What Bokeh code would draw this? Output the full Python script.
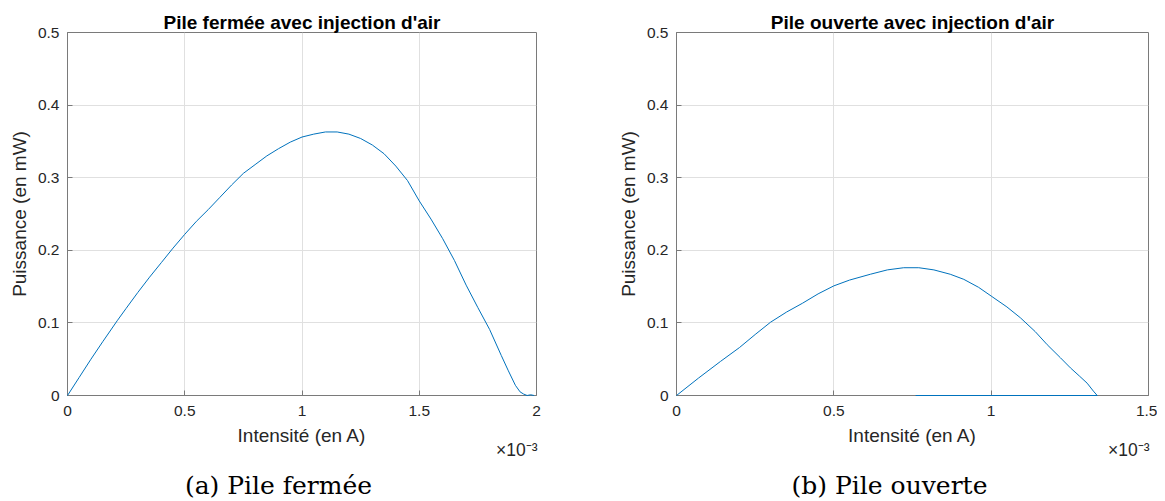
from bokeh.plotting import figure
from bokeh.layouts import row
from bokeh.models import Range1d, FixedTicker, Label, CustomJSTickFormatter
from bokeh.embed import file_html
from bokeh.resources import INLINE

# ---------------- data (x in 10^-3 A, y in mW) ----------------
closed_current_mA = [0, 0.05, 0.1, 0.15, 0.212, 0.25, 0.3, 0.35, 0.4, 0.45, 0.5, 0.55, 0.6,
                     0.65, 0.7, 0.75, 0.8, 0.85, 0.9, 0.95, 1.0, 1.05, 1.1, 1.15, 1.2, 1.25,
                     1.3, 1.35, 1.4, 1.45, 1.5, 1.55, 1.6, 1.65, 1.7, 1.75, 1.8, 1.85, 1.88,
                     1.91, 1.93, 1.945, 1.96, 1.975, 1.99]
closed_power_mW = [0, 0.025, 0.050, 0.074, 0.103, 0.120, 0.142, 0.163, 0.183, 0.203, 0.222,
                   0.240, 0.256, 0.273, 0.290, 0.306, 0.318, 0.330, 0.340, 0.349, 0.356,
                   0.360, 0.363, 0.363, 0.360, 0.354, 0.345, 0.333, 0.316, 0.296, 0.268,
                   0.243, 0.216, 0.186, 0.152, 0.121, 0.091, 0.055, 0.034, 0.014, 0.005,
                   0.002, 0.0, 0.001, 0.0]

open_current_mA = [0, 0.07, 0.14, 0.2, 0.25, 0.299, 0.35, 0.4, 0.45, 0.5, 0.55, 0.616, 0.67,
                   0.722, 0.77, 0.818, 0.87, 0.913, 0.96, 1.0, 1.05, 1.093, 1.14, 1.178, 1.22,
                   1.252, 1.28, 1.305, 1.325, 1.337, 1.2, 1.0, 0.76]
open_power_mW = [0, 0.024, 0.047, 0.066, 0.084, 0.101, 0.115, 0.127, 0.140, 0.151, 0.159,
                 0.167, 0.173, 0.176, 0.176, 0.173, 0.167, 0.160, 0.149, 0.137, 0.122, 0.107,
                 0.088, 0.070, 0.052, 0.038, 0.027, 0.017, 0.006, 0.0, 0.0, 0.0, 0.0]

titles = ["Pile fermée avec injection d'air", "Pile ouverte avec injection d'air"]
captions = ["(a) Pile fermée", "(b) Pile ouverte"]
x_label = "Intensité (en A)"
y_label = "Puissance (en mW)"
x_ticks_closed = [0, 0.5, 1, 1.5, 2]
x_ticks_open = [0, 0.5, 1, 1.5]
y_ticks = [0, 0.1, 0.2, 0.3, 0.4, 0.5]
x_multiplier = "×10⁻³"

LINE = "#0072BD"
AXIS = "#7a7a7a"
TXT = "#262626"
GRID = "#e0e0e0"
SANS = "Liberation Sans"

fmt_code = "return String(Math.round(tick*10)/10);"


def style_axis(ax, ticks):
    ax.ticker = FixedTicker(ticks=ticks)
    ax.formatter = CustomJSTickFormatter(code=fmt_code)
    ax.axis_line_color = AXIS
    ax.major_tick_line_color = AXIS
    ax.major_tick_in = 5
    ax.major_tick_out = 0
    ax.minor_tick_line_color = None
    ax.major_label_text_font = SANS
    ax.major_label_text_font_size = "15.5px"
    ax.major_label_text_color = TXT
    ax.axis_label_text_font = SANS
    ax.axis_label_text_font_size = "19px"
    ax.axis_label_text_font_style = "normal"
    ax.axis_label_text_color = TXT


def make_plot(xs, ys, xmax, xticks, title, caption, width, bl, br, cap_x):
    H = 500
    bt, bb = 32, 105
    fw = width - bl - br
    p = figure(width=width, height=H, x_range=Range1d(0, xmax), y_range=Range1d(0, 0.5),
               output_backend="svg", toolbar_location=None,
               min_border_left=bl, min_border_right=br, min_border_top=bt, min_border_bottom=bb,
               x_axis_label=x_label, y_axis_label=y_label)
    p.outline_line_color = AXIS
    p.background_fill_color = "white"
    p.border_fill_color = "white"

    style_axis(p.xaxis[0], xticks)
    p.xaxis[0].major_label_standoff = 10
    p.xaxis[0].axis_label_standoff = 6
    style_axis(p.yaxis[0], y_ticks)
    p.yaxis[0].major_label_standoff = 8
    p.yaxis[0].axis_label_standoff = 5

    p.xgrid.ticker = FixedTicker(ticks=xticks)
    p.ygrid.ticker = FixedTicker(ticks=y_ticks)
    p.xgrid.grid_line_color = GRID
    p.ygrid.grid_line_color = GRID

    p.line(xs, ys, line_color=LINE, line_width=1.0, level="overlay")

    p.title.text = title
    p.title.align = "center"
    p.title.text_font = SANS
    p.title.text_font_size = "19px"
    p.title.text_font_style = "bold"
    p.title.text_color = "black"
    p.title.standoff = 0

    # ×10^-3 multiplier, in the panel below the x axis
    p.add_layout(Label(x=fw + 1, y=19, x_units="screen", y_units="screen", text=x_multiplier,
                       text_align="right", text_baseline="alphabetic",
                       text_font=SANS, text_font_size="17.5px", text_color=TXT), "below")
    # sub-figure caption
    p.add_layout(Label(x=cap_x, y=12, x_units="screen", y_units="screen", text=caption,
                       text_align="center", text_baseline="alphabetic",
                       text_font="DejaVu Serif", text_font_size="25px", text_color="black"),
                 "below")
    return p


p1 = make_plot(closed_current_mA, closed_power_mW, 2, x_ticks_closed, titles[0], captions[0],
               600, 67, 64, 211)
p2 = make_plot(open_current_mA, open_power_mW, 1.5, x_ticks_open, titles[1], captions[1],
               557, 76, 9, 213)

layout = row(p1, p2)
open("out.html", "w").write(file_html(layout, INLINE))
